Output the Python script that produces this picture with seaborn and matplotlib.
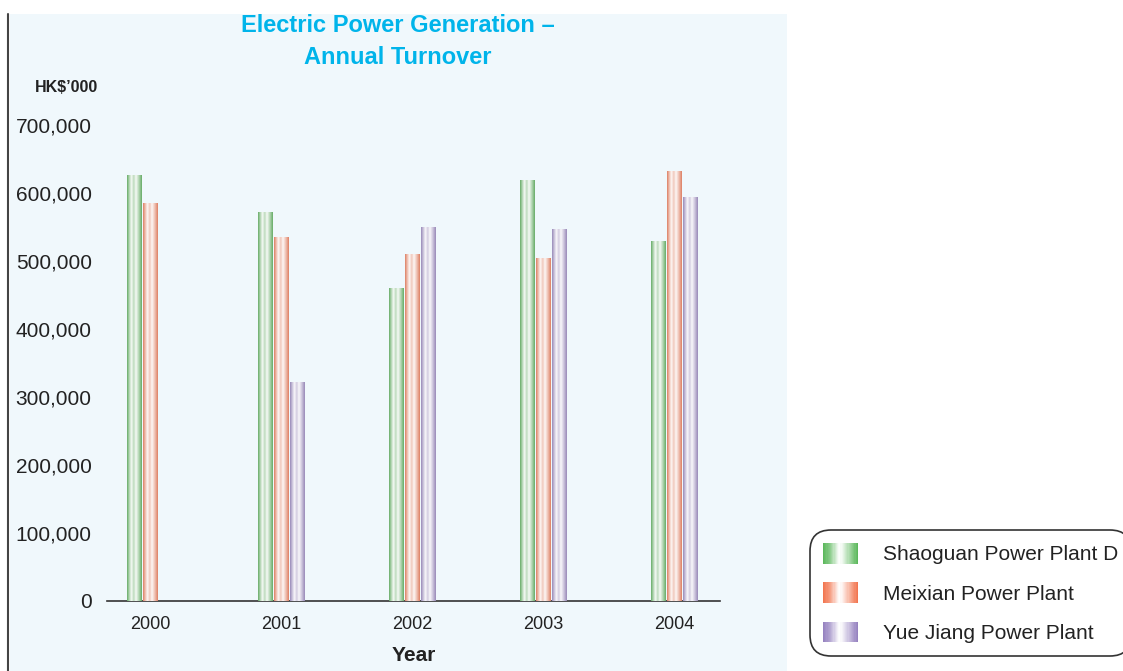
import numpy as np
import pandas as pd
import matplotlib
matplotlib.use('Agg')
import matplotlib.pyplot as plt
import seaborn as sns
from matplotlib.patches import Rectangle, Patch
from matplotlib.legend_handler import HandlerBase
from matplotlib.colors import to_rgb
from matplotlib.ticker import FuncFormatter

## data (HK$'000)
years = ['2000', '2001', '2002', '2003', '2004']
plants = ['Shaoguan Power Plant D', 'Meixian Power Plant', 'Yue Jiang Power Plant']
shaoguan = [626000, 572000, 459000, 618000, 528000]
meixian = [585000, 534000, 509000, 503000, 631000]
yuejiang = [np.nan, 322000, 549000, 546000, 594000]
colors = ['#5cb85c', '#f27650', '#9682c0']

df = pd.DataFrame({
    'Year': years * 3,
    'Plant': [plants[0]] * 5 + [plants[1]] * 5 + [plants[2]] * 5,
    'Turnover': shaoguan + meixian + yuejiang,
})

sns.set_style('white')
plt.rcParams['font.family'] = ['Liberation Sans', 'DejaVu Sans']

W, H = 1123, 671
fig = plt.figure(figsize=(W / 100, H / 100), dpi=100, facecolor='white')
ax = fig.add_axes([107 / W, 1 - 601 / H, (720 - 107) / W, (601 - 125) / H])
ax.patch.set_visible(False)

# light blue panel + dark rule on the left (kept behind the axes)
fig.patches.append(Rectangle((10 / W, 0), (787 - 10) / W, (H - 14) / H,
                             transform=fig.transFigure, facecolor='#f0f8fc',
                             edgecolor='none', zorder=-5))
fig.add_artist(plt.Line2D([8 / W, 8 / W], [0, 1 - 14 / H], transform=fig.transFigure,
                          color='#444444', lw=1.5, zorder=-4))

# stripe profiles (0 = white, 1 = full colour)
BAR_POS = [0, 0.12, 0.3, 0.45, 0.6, 0.8, 1.0]
BAR_MIX = [1.0, 0.6, 0.05, 0.45, 0.05, 0.5, 1.0]
KEY_POS = [0, 0.2, 0.42, 0.47, 0.55, 0.8, 1.0]
KEY_MIX = [1.0, 0.7, 0.1, 0.0, 0.1, 0.6, 1.0]


def stripe_colors(base, n, pos, mix):
    base = np.array(to_rgb(base))
    m = np.interp(np.linspace(0, 1, n), pos, mix)[:, None]
    return np.ones(3) * (1 - m) + base * m


sns.barplot(data=df, x='Year', y='Turnover', hue='Plant', hue_order=plants,
            palette=colors, width=0.37, gap=0.13, errorbar=None, legend=False, ax=ax)

# swap flat bars for striped gradient images
for p in list(ax.patches):
    h = p.get_height()
    if not np.isfinite(h) or h <= 0:
        continue
    x0 = p.get_x()
    w = p.get_width()
    img = stripe_colors(p.get_facecolor(), 60, BAR_POS, BAR_MIX)[None, :, :]
    ax.imshow(img, extent=[x0, x0 + w, 0, h], aspect='auto', zorder=3, interpolation='bilinear')
    p.set_visible(False)

ax.set_xlim(-0.328, 4.35)
ax.set_ylim(0, 700000)
ax.set_yticks(np.arange(0, 700001, 100000))
ax.yaxis.set_major_formatter(FuncFormatter(lambda v, pos: f'{int(v):,}'))
ax.tick_params(axis='y', length=0, pad=11, labelsize=15, labelcolor='#222222')
ax.tick_params(axis='x', length=0, pad=11, labelsize=13, labelcolor='#222222')
for s in ['left', 'right', 'top']:
    ax.spines[s].set_visible(False)
ax.spines['bottom'].set_color('#333333')
ax.spines['bottom'].set_linewidth(1.2)
ax.set_xlabel('Year', fontsize=15, fontweight='bold', color='#222222', labelpad=9)
ax.set_ylabel('')

fig.text(398 / W, 1 - 25 / H, 'Electric Power Generation \u2013', ha='center', va='center',
         fontsize=17, fontweight='bold', color='#00b4ea')
fig.text(398 / W, 1 - 57 / H, 'Annual Turnover', ha='center', va='center',
         fontsize=17, fontweight='bold', color='#00b4ea')
fig.text(35 / W, 1 - 88 / H, "HK$\u2019000", ha='left', va='center',
         fontsize=11.5, fontweight='bold', color='#222222')


class StripeHandler(HandlerBase):
    def create_artists(self, legend, orig_handle, xdescent, ydescent, width, height,
                       fontsize, trans):
        n = 30
        cols = stripe_colors(orig_handle.get_facecolor(), n, KEY_POS, KEY_MIX)
        arts = []
        for i in range(n):
            r = Rectangle((-xdescent + i * width / n, -ydescent), width / n + 0.3, height,
                          facecolor=cols[i], edgecolor='none', transform=trans)
            arts.append(r)
        return arts


handles = [Patch(facecolor=c, label=l) for c, l in zip(colors, plants)]
leg = fig.legend(handles=handles, handler_map={Patch: StripeHandler()},
                 loc='upper left', bbox_to_anchor=(810 / W, 1 - 530 / H),
                 bbox_transform=fig.transFigure, borderaxespad=0, borderpad=0.62,
                 fontsize=15, labelspacing=0.86, handlelength=1.68, handleheight=1.15,
                 handletextpad=1.2, frameon=True, fancybox=True)
frame = leg.get_frame()
frame.set_boxstyle('round,pad=0,rounding_size=1.0')
frame.set_edgecolor('#333333')
frame.set_linewidth(1.2)
frame.set_facecolor('white')
frame.set_alpha(1)
for t in leg.get_texts():
    t.set_color('#222222')

fig.savefig('out.png', dpi=100)
